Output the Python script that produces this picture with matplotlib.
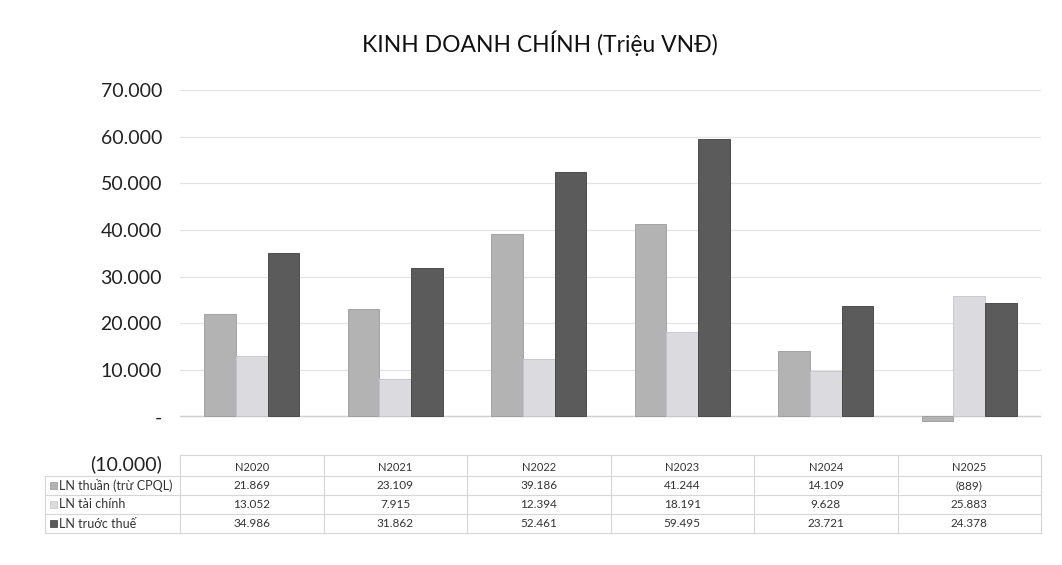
import matplotlib
matplotlib.use("Agg")
import matplotlib.pyplot as plt
from matplotlib.ticker import FuncFormatter
import numpy as np

plt.rcParams['font.family'] = ['Lato', 'DejaVu Sans']

categories = ["N2020", "N2021", "N2022", "N2023", "N2024", "N2025"]
series_names = ["LN thuần (trừ CPQL)", "LN tài chính", "LN truớc thuế"]
ln_thuan = [21869, 23109, 39186, 41244, 14109, -889]
ln_taichinh = [13052, 7915, 12394, 18191, 9628, 25883]
ln_truocthue = [34986, 31862, 52461, 59495, 23721, 24378]
series = [ln_thuan, ln_taichinh, ln_truocthue]
colors = ["#b3b3b3", "#dadadf", "#5b5b5b"]
edges = ["#9a9a9a", "#c4c4c8", "#3e3e3e"]
yticks = [-10000, 0, 10000, 20000, 30000, 40000, 50000, 60000, 70000]


def vn_fmt(v):
    if v == 0:
        return "-"
    s = f"{abs(int(v)):,}".replace(",", ".")
    return f"({s})" if v < 0 else s


W, H = 1062, 565
fig = plt.figure(figsize=(W / 100, H / 100), dpi=100)

def fx(px):
    return px / W

def fy(py):
    return 1 - py / H

ax_left, ax_right, ax_top, ax_bot = 180, 1041, 90, 463
ax = fig.add_axes([fx(ax_left), fy(ax_bot), fx(ax_right - ax_left), fy(ax_top) - fy(ax_bot)])

x = np.arange(len(categories))
bw = 0.22
for i, (vals, c, ec) in enumerate(zip(series, colors, edges)):
    ax.bar(x + (i - 1) * bw, vals, width=bw, color=c, edgecolor=ec, linewidth=0.6, zorder=3)

ax.set_xlim(-0.5, len(categories) - 0.5)
ax.set_ylim(-10000, 70000)
ax.set_yticks(yticks)
ax.yaxis.set_major_formatter(FuncFormatter(lambda v, p: vn_fmt(v)))
ax.tick_params(axis='y', length=0, labelsize=14, colors="#222222", pad=13)
ax.tick_params(axis='x', length=0, labelbottom=False)
ax.grid(axis='y', color="#e4e4e4", linewidth=0.9, zorder=0)
ax.axhline(0, color="#d0d0d0", linewidth=1.0, zorder=2)
for s in ax.spines.values():
    s.set_visible(False)
ax.get_ygridlines()[0].set_visible(False)

fig.text(fx(540), fy(43), "KINH DOANH CHÍNH (Triệu VNĐ)", ha='center', va='center',
         fontsize=16.5, color="#111111")

# ---- data table ----
tab = fig.add_axes([0, 0, 1, 1])
tab.set_xlim(0, W)
tab.set_ylim(H, 0)
tab.axis('off')
tab.patch.set_alpha(0)

col_w = (ax_right - ax_left) / len(categories)
lab_left = 45
hdr_top, row_lines = 455, [476, 495, 514, 533]
line_c = "#d6d6d6"
tab.plot([ax_left, ax_right], [hdr_top, hdr_top], color=line_c, lw=0.8)
for yl in row_lines:
    tab.plot([lab_left, ax_right], [yl, yl], color=line_c, lw=0.8)
for k in range(len(categories) + 1):
    xl = ax_left + k * col_w
    tab.plot([xl, xl], [hdr_top, row_lines[-1]], color=line_c, lw=0.8)
tab.plot([lab_left, lab_left], [row_lines[0], row_lines[-1]], color=line_c, lw=0.8)

hdr_y = (hdr_top + row_lines[0]) / 2 + 2
for k, cat in enumerate(categories):
    tab.text(ax_left + (k + 0.5) * col_w, hdr_y, cat, ha='center', va='center',
             fontsize=8, color="#333333")

for r, (name, vals, c, ec) in enumerate(zip(series_names, series, colors, edges)):
    yc = (row_lines[r] + row_lines[r + 1]) / 2
    tab.add_patch(plt.Rectangle((lab_left + 5, yc - 3.5), 7, 7, facecolor=c, edgecolor=ec, lw=0.5))
    tab.text(lab_left + 14, yc, name, ha='left', va='center', fontsize=9, color="#333333")
    for k, v in enumerate(vals):
        tab.text(ax_left + (k + 0.5) * col_w, yc, vn_fmt(v), ha='center', va='center',
                 fontsize=8.5, color="#333333")

fig.savefig("out.png", dpi=100)
